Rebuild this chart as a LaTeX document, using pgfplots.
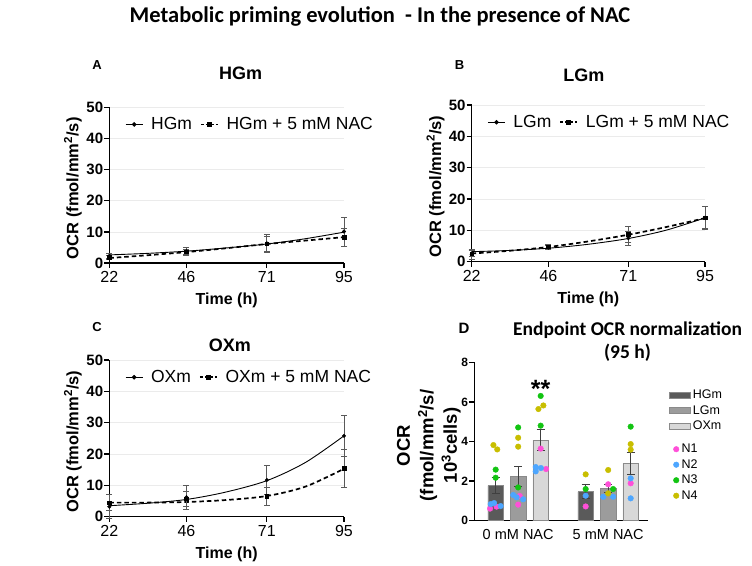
\documentclass[border=0pt]{standalone}
\usepackage{fontspec}
\setmainfont{Liberation Sans}
\newfontfamily\titlefont{Carlito}
\usepackage{pgfplots}
\pgfplotsset{compat=1.18}
\definecolor{hgcol}{HTML}{5A5A5A}
\definecolor{lgcol}{HTML}{9C9C9C}
\definecolor{oxcol}{HTML}{D8D8D8}
\definecolor{edgecol}{HTML}{8A8A8A}
\definecolor{ncA}{HTML}{FF4FD8}
\definecolor{ncB}{HTML}{4DA6FF}
\definecolor{ncC}{HTML}{12C412}
\definecolor{ncD}{HTML}{C8BE00}
\newcommand\fs[1]{\fontsize{#1}{#1}\selectfont}
\pgfplotsset{
 tc/.style={
  scale only axis, width=234.7pt, height=155.7pt,
  xmin=22, xmax=95, ymin=0, ymax=50,
  xtick={22,46,71,95}, ytick={0,10,20,30,40,50},
  axis lines*=left, axis line style={line width=1.3pt,-},
  tick style={line width=1.3pt, black}, tick align=outside, major tick length=5pt,
  ymajorgrids, grid style={black!8, line width=0.5pt},
  /pgf/number format/assume math mode=true,
  xticklabel style={font=\fs{16}},
  yticklabel style={font=\bfseries\fs{15}, inner xsep=1pt},
  xlabel={Time (h)},
  xlabel style={font=\bfseries\fs{16}, at={(axis description cs:0.5,-0.24)}, anchor=center},
  ylabel={OCR (fmol/mm\textsuperscript{2}/s)},
  ylabel style={font=\bfseries\fs{16.5}, at={(axis description cs:-0.155,0.48)}, anchor=center},
  title style={font=\bfseries\fs{18}, anchor=center},
  legend columns=2,
  legend style={draw=none, fill=none, font=\fs{17.5}, at={(axis description cs:0.067,0.89)}, anchor=west, inner xsep=0pt, inner ysep=0pt,
   /tikz/every odd column/.append style={column sep=6pt},
   /tikz/every even column/.append style={column sep=6pt}},
  legend image code/.code={\draw[mark repeat=2,mark phase=2,##1] plot coordinates {(0pt,0pt) (8.5pt,0pt) (17pt,0pt)};},
  clip=false,
 },
 solidcurve/.style={black, line width=0.9pt, smooth, forget plot},
 dashcurve/.style={black, line width=1.7pt, dash pattern=on 4.5pt off 3pt, smooth, forget plot},
 ptsA/.style={only marks, mark=*, mark size=1.8pt, black, forget plot,
   error bars/.cd, y dir=both, y explicit,
   error bar style={line width=0.7pt, black!65},
   error mark options={rotate=90, mark size=3pt, line width=0.7pt, black!65}},
 ptsB/.style={only marks, mark=square*, mark size=1.8pt, black, forget plot,
   error bars/.cd, y dir=both, y explicit,
   error bar style={line width=0.7pt, black!65},
   error mark options={rotate=90, mark size=3pt, line width=0.7pt, black!65}},
 legA/.style={black, line width=0.9pt, mark=*, mark size=1.8pt},
 legB/.style={black, line width=1.6pt, dash pattern=on 3pt off 2pt, mark=square*, mark size=1.8pt, mark options={solid}},
}
\begin{document}
\begin{tikzpicture}[x=1pt,y=1pt]
\useasboundingbox (0,0) rectangle (752,565);
\node[font=\titlefont\bfseries\fs{22.5}] at (380,548) {Metabolic priming evolution\ \ - In the presence of NAC};
\node[font=\bfseries\fs{13}] at (97,500) {A};
\node[font=\bfseries\fs{13}] at (459.5,500) {B};
\node[font=\bfseries\fs{13}] at (97,238) {C};
\node[font=\bfseries\fs{15}] at (464,236.5) {D};

% Panel A
\begin{axis}[tc, at={(109.3pt,302pt)}, anchor=south west,
  title={HGm}, title style={at={(axis description cs:0.56,1.178)}}]
\addplot[solidcurve] coordinates {(22,2.6) (34,3.1) (46,3.8) (58,4.8) (71,6.1) (83,7.8) (95,9.9)};
\addplot[dashcurve] coordinates {(22,1.6) (34,2.5) (46,3.5) (58,4.7) (71,6.1) (83,7.2) (95,8.3)};
\addplot[ptsA] coordinates {(22,2.3) +- (0,0.8) (46,3.8) +- (0,1.2) (71,6.3) +- (0,2.8) (95,10.1) +- (0,4.6)};
\addplot[ptsB] coordinates {(22,1.8) +- (0,0.6) (46,3.6) +- (0,0.8) (71,6.2) +- (0,2.5) (95,8.3) +- (0,2.8)};
\addlegendimage{legA}\addlegendentry{HGm}
\addlegendimage{legB}\addlegendentry{HGm + 5 mM NAC}
\end{axis}

% Panel B
\begin{axis}[tc, at={(471.7pt,303.3pt)}, anchor=south west, width=233.3pt, height=156.7pt,
  title={LGm}, title style={at={(axis description cs:0.481,1.154)}}]
\addplot[solidcurve] coordinates {(22,3.2) (34,3.6) (46,4.3) (58,5.5) (71,7.4) (83,10.1) (95,14.0)};
\addplot[dashcurve] coordinates {(22,2.6) (34,3.5) (46,4.7) (58,6.4) (71,8.6) (83,11.1) (95,13.9)};
\addplot[ptsA] coordinates {(22,2.4) +- (0,1.5) (46,4.5) +- (0,0.7) (71,7.5) +- (0,2.3) (95,14.0) +- (0,3.6)};
\addplot[ptsB] coordinates {(22,2.6) +- (0,1.0) (46,4.8) +- (0,0.8) (71,8.8) +- (0,2.6) (95,14.1) +- (0,3.5)};
\addlegendimage{legA}\addlegendentry{LGm}
\addlegendimage{legB}\addlegendentry{LGm + 5 mM NAC}
\end{axis}

% Panel C
\begin{axis}[tc, at={(109.3pt,48.3pt)}, anchor=south west, height=156.7pt,
  title={OXm}, title style={at={(axis description cs:0.514,1.058)}}]
\addplot[solidcurve] coordinates {(22,3.5) (34,4.3) (46,5.5) (58,7.8) (71,11.5) (83,17.3) (95,25.8)};
\addplot[dashcurve] coordinates {(22,4.5) (34,4.5) (46,4.7) (58,5.3) (71,6.6) (83,9.6) (95,15.3)};
\addplot[ptsA] coordinates {(22,3.2) +- (0,3.8) (46,6.2) +- (0,3.8) (71,11.7) +- (0,4.6) (95,25.8) +- (0,6.6)};
\addplot[ptsB] coordinates {(22,4.5) +- (0,2.5) (46,5.7) +- (0,2.3) (71,6.5) +- (0,2.9) (95,15.4) +- (0,6.0)};
\addlegendimage{legA}\addlegendentry{OXm}
\addlegendimage{legB}\addlegendentry{OXm + 5 mM NAC}
\end{axis}

% Panel D
\begin{axis}[at={(474.3pt,44.3pt)}, anchor=south west,
  scale only axis, width=173.7pt, height=158.4pt,
  xmin=-0.95, xmax=6.77, ymin=0, ymax=8,
  xtick={1,5}, xticklabels={0 mM NAC,5 mM NAC}, ytick={0,2,4,6,8},
  axis lines*=left, axis line style={line width=1.3pt,-},
  tick style={line width=1.3pt, black}, tick align=outside, major tick length=5pt,
  xtick style={draw=none},
  /pgf/number format/assume math mode=true,
  xticklabel style={font=\fs{14.5}},
  yticklabel style={font=\bfseries\fs{12}, inner xsep=1pt},
  ylabel={OCR\\(fmol/mm\textsuperscript{2}/s/\\10\textsuperscript{3}cells)},
  ylabel style={align=center, font=\bfseries\fontsize{18.5}{23.5}\selectfont, at={(axis description cs:-0.262,0.475)}, anchor=center},
  title={Endpoint OCR normalization\\(95 h)},
  title style={align=center, font=\titlefont\bfseries\fontsize{19.5}{23}\selectfont, at={(axis description cs:0.882,1.09)}, anchor=center},
  legend cell align=left,
  legend style={draw=none, fill=none, font=\fs{12.5}, at={(axis description cs:1.121,0.825)}, anchor=north west,
    inner xsep=0pt, inner ysep=0pt, row sep=5.5pt,
    nodes={inner sep=0pt, text height=8.5pt, text depth=1.5pt},
    /tikz/every odd column/.append style={column sep=2pt}},
  clip=false,
  ebar/.style={error bars/.cd, y dir=both, y explicit,
    error bar style={line width=1pt, black!75},
    error mark options={rotate=90, mark size=4pt, line width=1pt, black!75}},
  dots/.style={only marks, mark=*, mark size=2.8pt, forget plot},
]
\addplot[ybar, bar width=15.7pt, bar shift=0pt, fill=hgcol, draw=edgecol, line width=0.6pt, forget plot, ebar]
  coordinates {(0,1.77) +- (0,0.42) (4,1.46) +- (0,0.35)};
\addplot[ybar, bar width=15.7pt, bar shift=0pt, fill=lgcol, draw=edgecol, line width=0.6pt, forget plot, ebar]
  coordinates {(1,2.22) +- (0,0.51) (5,1.63) +- (0,0.22)};
\addplot[ybar, bar width=15.7pt, bar shift=0pt, fill=oxcol, draw=edgecol, line width=0.6pt, forget plot, ebar]
  coordinates {(2,4.07) +- (0,0.53) (6,2.90) +- (0,0.56)};
% N1
\addplot[dots, ncA] coordinates {(-0.25,0.61) (0.04,0.71) (1.07,1.25) (1.0,0.81) (2.0,3.64) (2.24,2.61) (4,0.72) (5,1.84) (6,1.89)};
% N2
\addplot[dots, ncB] coordinates {(-0.22,0.84) (-0.07,0.89) (0.22,0.74) (0.78,1.30) (0.93,1.18) (1.22,1.08) (1.78,2.71) (1.78,2.49) (2.01,2.66) (4,1.26) (4.78,1.21) (5.22,1.21) (6,2.14) (6,1.13)};
% N3
\addplot[dots, ncC] coordinates {(0,2.58) (0,2.17) (1,4.71) (1,1.68) (2,6.30) (2,4.80) (4,1.60) (5.22,1.60) (6,4.75)};
% N4
\addplot[dots, ncD] coordinates {(-0.1,3.82) (0.07,3.60) (1,4.19) (1,3.74) (1.9,5.64) (2.12,5.82) (4,2.34) (5,2.56) (5,1.38) (6,3.87) (6,3.59)};
\node[font=\bfseries\fs{25}, anchor=base] at (axis cs:2,6.2) {**};
\addlegendimage{legend image code/.code={\draw[fill=hgcol,draw=edgecol,line width=0.6pt] (0pt,-3pt) rectangle (21pt,3pt);}}
\addlegendentry{HGm}
\addlegendimage{legend image code/.code={\draw[fill=lgcol,draw=edgecol,line width=0.6pt] (0pt,-3pt) rectangle (21pt,3pt);}}
\addlegendentry{LGm}
\addlegendimage{legend image code/.code={\draw[fill=oxcol,draw=edgecol,line width=0.6pt] (0pt,-3pt) rectangle (21pt,3pt);}}
\addlegendentry{OXm}
\addlegendimage{empty legend}
\addlegendentry[text height=2pt, text depth=0pt]{}
\addlegendimage{legend image code/.code={\fill[ncA] (6.7pt,0pt) circle (2.8pt);}}
\addlegendentry{\hspace*{-11.2pt}N1}
\addlegendimage{legend image code/.code={\fill[ncB] (6.7pt,0pt) circle (2.8pt);}}
\addlegendentry{\hspace*{-11.2pt}N2}
\addlegendimage{legend image code/.code={\fill[ncC] (6.7pt,0pt) circle (2.8pt);}}
\addlegendentry{\hspace*{-11.2pt}N3}
\addlegendimage{legend image code/.code={\fill[ncD] (6.7pt,0pt) circle (2.8pt);}}
\addlegendentry{\hspace*{-11.2pt}N4}
\end{axis}
\end{tikzpicture}
\end{document}
